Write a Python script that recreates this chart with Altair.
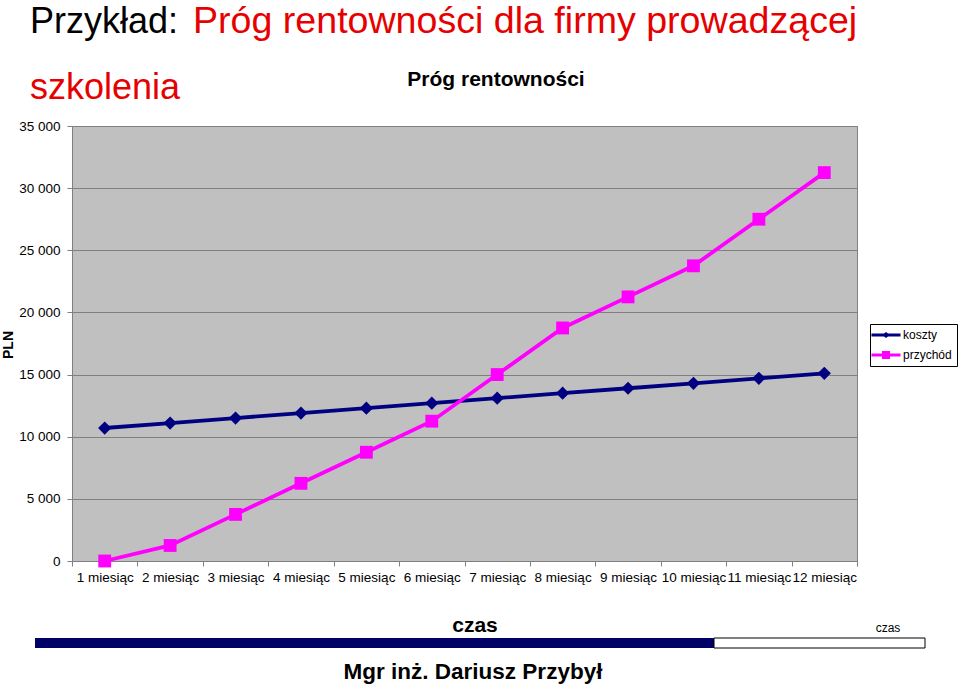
import altair as alt
import pandas as pd

# ---------------- data ----------------
months = ["1 miesiąc", "2 miesiąc", "3 miesiąc", "4 miesiąc", "5 miesiąc", "6 miesiąc",
          "7 miesiąc", "8 miesiąc", "9 miesiąc", "10 miesiąc", "11 miesiąc", "12 miesiąc"]
koszty = [10700, 11100, 11500, 11900, 12300, 12700, 13100, 13500, 13900, 14300, 14700, 15100]
przychod = [0, 1250, 3750, 6250, 8750, 11250, 15000, 18750, 21250, 23750, 27500, 31250]
series_names = ["koszty", "przychód"]
y_ticks = [0, 5000, 10000, 15000, 20000, 25000, 30000, 35000]

# ---------------- style ----------------
FONT = "Liberation Sans"
series_colors = ["#000080", "#FF00FF"]
RED = "#E60000"
W, H = 785, 435
PAD = {"left": 72, "top": 126, "right": 103, "bottom": 123}

df = pd.DataFrame({
    "month": months * 2,
    "series": [series_names[0]] * len(months) + [series_names[1]] * len(months),
    "value": koszty + przychod,
})

x_enc = alt.X(
    "month:N", sort=months,
    scale=alt.Scale(paddingInner=0, paddingOuter=0),
    axis=alt.Axis(title=None, tickBand="extent", labelAngle=0, labelFontSize=13.5,
                  labelColor="black", labelFont=FONT, tickColor="#808080",
                  domainColor="#808080", tickSize=5, labelPadding=4,
                  labelOverlap=False, grid=False),
)
y_enc = alt.Y(
    "value:Q", scale=alt.Scale(domain=[0, 35000]),
    axis=alt.Axis(title=None, values=y_ticks,
                  labelExpr="replace(format(datum.value, ','), ',', ' ')",
                  grid=True, gridColor="#808080", gridOpacity=1, labelFontSize=13.5,
                  labelColor="black", labelFont=FONT, tickColor="#808080",
                  domainColor="#808080", tickSize=5, labelPadding=7),
)
color_scale = alt.Scale(domain=series_names, range=series_colors)

base = alt.Chart(df)

lines = base.mark_line(strokeWidth=3.8).encode(
    x=x_enc, y=y_enc,
    color=alt.Color("series:N", scale=color_scale, legend=None),
)

points = base.mark_point(filled=True, opacity=1).encode(
    x=x_enc, y=y_enc,
    color=alt.Color("series:N", scale=color_scale, legend=None),
    shape=alt.Shape("series:N", scale=alt.Scale(domain=series_names, range=["diamond", "square"]),
                    legend=None),
    size=alt.Size("series:N", scale=alt.Scale(domain=series_names, range=[175, 165]), legend=None),
)

# legend symbols: line with marker (custom paths, unit = 6 px for symbol size 144)
leg_paths = [
    "M-2.42,-0.25H2.42V0.25H-2.42Z M0,-0.5L0.67,0L0,0.5L-0.67,0Z",
    "M-2.42,-0.25H2.42V0.25H-2.42Z M-0.67,-0.67H0.67V0.67H-0.67Z",
]
leg = dict(title=None, orient="none", legendX=798, legendY=198, padding=5,
           strokeColor="black", fillColor="white", labelFontSize=12, labelFont=FONT,
           labelColor="black", labelOffset=11, symbolOffset=5, symbolSize=144,
           symbolStrokeWidth=0, symbolOpacity=1, rowPadding=8)
legend_layer = base.transform_filter("false").mark_point(filled=True).encode(
    x=x_enc, y=y_enc,
    color=alt.Color("series:N", scale=color_scale, legend=alt.Legend(**leg)),
    shape=alt.Shape("series:N", scale=alt.Scale(domain=series_names, range=leg_paths),
                    legend=alt.Legend(**leg)),
)


def txt(text, x, y, size, color="black", bold=False, align="left", angle=0, font=FONT):
    kw = dict(fontSize=size, color=color, fontWeight="bold" if bold else "normal",
              align=align, baseline="alphabetic", font=font)
    if angle:
        kw["angle"] = angle
    return alt.Chart(pd.DataFrame({"t": [text]})).mark_text(**kw).encode(
        x=alt.value(x), y=alt.value(y), text="t:N")


def box(x1, x2, y1, y2, fill, stroke=None):
    kw = dict(color=fill)
    if stroke:
        kw.update(stroke=stroke, strokeWidth=1)
    return alt.Chart(pd.DataFrame({"a": [0]})).mark_rect(**kw).encode(
        x=alt.value(x1), x2=alt.value(x2), y=alt.value(y1), y2=alt.value(y2))


deco = [
    txt("Przykład:", 30 - 72, 33 - 126, 36),
    txt("Próg rentowności dla firmy prowadzącej", 193 - 72, 33 - 126, 37.6, color=RED),
    txt("szkolenia", 30 - 72, 99 - 126, 36, color=RED),
    txt("Próg rentowności", 496 - 72, 86 - 126, 21, bold=True, align="center"),
    txt("PLN", 13 - 72, 345 - 126, 14, bold=True, align="center", angle=270),
    txt("czas", 475 - 72, 632 - 126, 21, bold=True, align="center"),
    box(35 - 72, 714 - 72, 638 - 126, 648 - 126, "#000066"),
    box(714 - 72, 925 - 72, 638 - 126, 648 - 126, "white", stroke="black"),
    txt("czas", 888 - 72, 632 - 126, 12, align="center"),
    txt("Mgr inż. Dariusz Przybył", 473 - 72, 679 - 126, 22.5, bold=True, align="center"),
]

chart = alt.layer(lines, points, legend_layer, *deco).resolve_scale(
    color="independent", shape="independent", size="independent"
).properties(
    width=W, height=H,
    autosize=alt.AutoSizeParams(type="none"),
    padding=PAD,
    background="white",
).configure(
    font=FONT
).configure_view(
    fill="#C0C0C0", stroke="#808080", strokeWidth=1
)

chart.save("out.html", embed_options={"renderer": "svg", "actions": False})
